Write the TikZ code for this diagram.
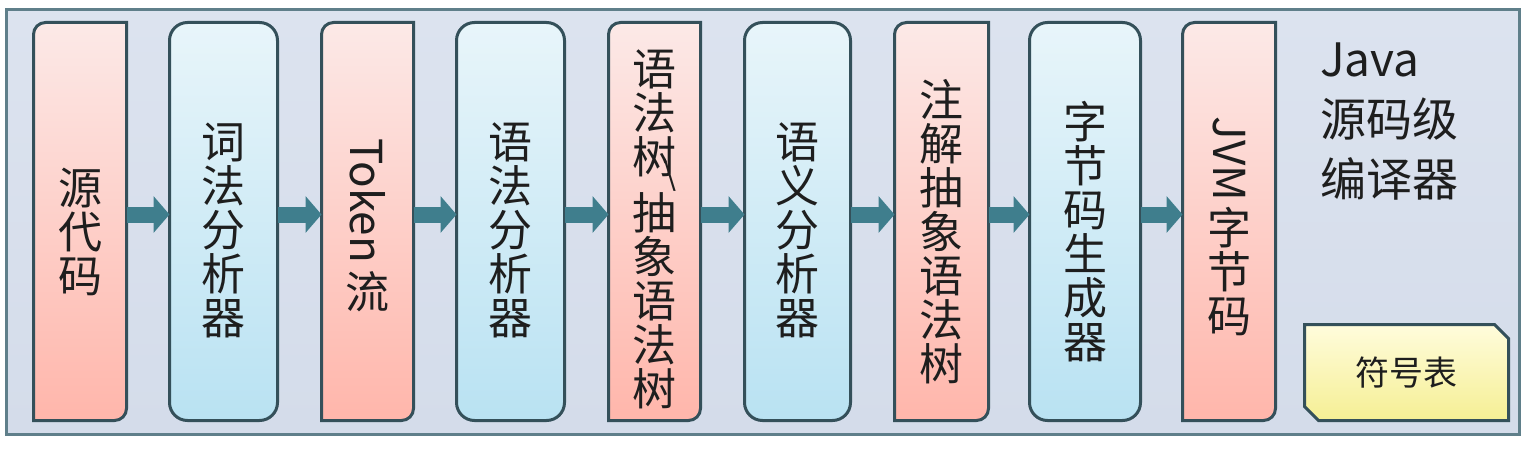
\documentclass[tikz,border=0pt]{standalone}
\usepackage{fontspec}
\newfontfamily\cjk{Noto Sans CJK SC}
\usetikzlibrary{calc,arrows.meta}
\definecolor{panelT}{HTML}{DCE3EF}
\definecolor{panelB}{HTML}{D4DCEA}
\definecolor{panelLine}{HTML}{5F7F8A}
\definecolor{boxLine}{HTML}{34505A}
\definecolor{pinkT}{HTML}{FCE9E7}
\definecolor{pinkB}{HTML}{FFB6AB}
\definecolor{blueT}{HTML}{E8F5FA}
\definecolor{blueB}{HTML}{B9E2F2}
\definecolor{yelT}{HTML}{FFFCDC}
\definecolor{yelB}{HTML}{F5EF94}
\definecolor{arrowC}{HTML}{3F7E8D}
\definecolor{txt}{HTML}{1E1E1E}
\newcommand\pinkpath[1]{%
  \path[pinkfill] let \p1=(#1.north west), \p2=(#1.south east) in
    (\x1+12pt,\y1) -- (\x2,\y1) -- (\x2,\y2+12pt)
    arc[start angle=0,end angle=-90,radius=12pt] -- (\x1,\y2) -- (\x1,\y1-12pt)
    arc[start angle=180,end angle=90,radius=12pt] -- cycle;}
\newcommand\yelpath[1]{%
  \path[yelfill] let \p1=(#1.north west), \p2=(#1.south east) in
    (\x1,\y1) -- (\x2-14pt,\y1) -- (\x2,\y1-14pt) -- (\x2,\y2)
    -- (\x1+14pt,\y2) -- (\x1,\y2+14pt) -- cycle;}
\begin{document}
\begin{tikzpicture}[x=1pt,y=-1pt,
  panel/.style={draw=panelLine,line width=3pt,top color=panelT,bottom color=panelB,
    minimum width=1513pt,minimum height=425pt,inner sep=0pt,outer sep=0pt},
  boxframe/.style={minimum height=398pt,inner sep=0pt,outer sep=0pt},
  pinkbox/.style={boxframe,draw=none},
  bluebox/.style={boxframe,draw=boxLine,line width=3pt,rounded corners=18pt,
    top color=blueT,bottom color=blueB},
  pinkfill/.style={draw=boxLine,line width=3pt,top color=pinkT,bottom color=pinkB},
  yelfill/.style={draw=boxLine,line width=3pt,top color=yelT,bottom color=yelB},
  vtext/.style={align=center,inner sep=0pt,text=txt,
    font=\cjk\fontsize{44}{44}\selectfont},
  flow/.style={draw=arrowC,line width=16pt,-{Triangle[length=16pt,width=36pt]}},
]
\useasboundingbox (0,0) rectangle (1536,452);
\fill[white] (0,0) rectangle (1536,452);
\node[panel] (frame) at (763,222) {};

% boxes
\node[pinkbox,minimum width=93pt]  (b1) at (80,221.5) {};
\pinkpath{b1}
\node[bluebox,minimum width=108pt] (b2) at (223.5,221.5) {};
\node[pinkbox,minimum width=92pt]  (b3) at (367.5,221.5) {};
\pinkpath{b3}
\node[bluebox,minimum width=108pt] (b4) at (510.5,221.5) {};
\node[pinkbox,minimum width=92pt]  (b5) at (654.5,221.5) {};
\pinkpath{b5}
\node[bluebox,minimum width=106pt] (b6) at (797.5,221.5) {};
\node[pinkbox,minimum width=94pt]  (b7) at (941.5,221.5) {};
\pinkpath{b7}
\node[bluebox,minimum width=111pt] (b8) at (1085,221.5) {};
\node[pinkbox,minimum width=93pt]  (b9) at (1229,221.5) {};
\pinkpath{b9}

% labels
\node[vtext] (t1) at ([yshift=-10pt]b1.center) {源\\代\\码};
\node[vtext] (t2) at ([yshift=-9pt]b2.center) {词\\法\\分\\析\\器};
\node[vtext] (t3) at ([yshift=-4pt]b3.center) {\rotatebox{-90}{Token}\\[8pt]流};
\node[vtext] (t4) at ([yshift=-9pt]b4.center) {语\\法\\分\\析\\器};
\node[vtext] (t5) at ([yshift=-8pt]b5.center)
  {语\\法\\树\makebox[0pt][r]{\raisebox{-12pt}[0pt][0pt]{\reflectbox{\fontsize{33}{33}\selectfont/}}}\\[12pt]抽\\象\\语\\法\\树};
\node[vtext] (t6) at ([yshift=-9pt]b6.center) {语\\义\\分\\析\\器};
\node[vtext] (t7) at ([yshift=-10pt]b7.center) {注\\解\\抽\\象\\语\\法\\树};
\node[vtext] (t8) at ([yshift=-10pt]b8.center) {字\\节\\码\\生\\成\\器};
\node[vtext] (t9) at ([yshift=-5pt]b9.center) {\rotatebox{-90}{JVM}\\[5pt]字\\节\\码};

% arrows
\foreach \a/\b in {b1/b2,b2/b3,b3/b4,b4/b5,b5/b6,b6/b7,b7/b8,b8/b9}
  \draw[flow] ([yshift=7pt]\a.east) -- ([yshift=7pt]\b.west);

% title
\node[anchor=north west,align=left,inner sep=0pt,text=txt,
  font=\cjk\fontsize{46}{60}\selectfont] (title) at (1320,43) {Java\\源码级\\编译器};

% symbol table
\node[minimum width=204pt,minimum height=96pt,inner sep=0pt,outer sep=0pt] (sym) at (1406.5,372.5) {};
\yelpath{sym}
\node[inner sep=0pt,text=txt,font=\cjk\fontsize{34}{34}\selectfont] (symt) at (sym.center) {符号表};
\end{tikzpicture}
\end{document}
